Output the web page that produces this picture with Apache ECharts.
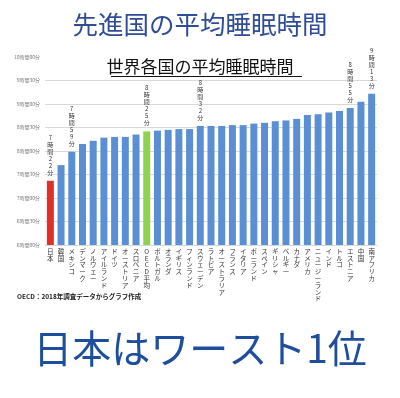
<!DOCTYPE html>
<html>
<head>
<meta charset="utf-8">
<script src="https://cdn.jsdelivr.net/npm/echarts@6/dist/echarts.min.js"></script>
<style>
    html, body {margin: 0; padding: 0; background: #fff;}
    #chart {width: 400px; height: 398px;}
</style>
</head>
<body>
<div id="chart"></div>
<script>
    //国名
    var countries = ['日本', '韓国', 'メキシコ', 'デンマーク', 'ノルウェー', 'アイルランド', 'ドイツ', 'オーストリア',
        'スロベニア', 'OECD平均', 'ポルトガル', 'オランダ', 'イギリス', 'フィンランド', 'スウェーデン', 'ラトビア',
        'オーストラリア', 'フランス', 'イタリア', 'ポーランド', 'スペイン', 'ギリシャ', 'ベルギー', 'カナダ',
        'アメリカ', 'ニュージーランド', 'インド', 'トルコ', 'エストニア', '中国', '南アフリカ'];
    //平均睡眠時間（分）
    var sleepMinutes = [442, 462, 479, 489, 493, 497, 498, 498, 501, 505, 506, 507, 508, 508, 512, 512,
        512, 513, 513, 515, 516, 518, 519, 521, 526, 527, 529, 531, 535, 543, 553];
    //ラベルを付ける国
    var labelled = ['日本', 'メキシコ', 'OECD平均', 'スウェーデン', 'エストニア', '南アフリカ'];
    //目盛り（分）
    var axisMin = 360;
    var axisMax = 600;
    var axisStep = 30;

    var pad = function (n) {
        return n < 10 ? '0' + n : '' + n;
    };
    var toTime = function (v) {
        return Math.floor(v / 60) + '時間' + pad(v % 60) + '分';
    };
    var vertical = function (s) {
        return s.split('').join('\n');
    };

    var barData = sleepMinutes.map(function (v, i) {
        var color = '#5b8fd4';
        if (countries[i] == '日本') color = '#e0302a';
        if (countries[i] == 'OECD平均') color = '#92d050';
        return {value: v, itemStyle: {color: color}};
    });

    //一番上の線は描かない
    var lineCount = (axisMax - axisMin) / axisStep + 1;
    var gridColors = [];
    for (var k = 0; k < lineCount; k++) {
        gridColors.push(k == lineCount - 1 ? 'rgba(0,0,0,0)' : '#d9d9d9');
    }

    var myChart = echarts.init(document.getElementById('chart'));
    myChart.setOption({
        animation: false,
        backgroundColor: '#fff',
        title: [{
            text: '先進国の平均睡眠時間',
            left: 'center',
            top: 7,
            textStyle: {
                fontFamily: 'Noto Sans CJK JP',
                fontSize: 25.5,
                fontWeight: 'normal',
                color: '#2f4d96'
            }
        }, {
            text: '世界各国の平均睡眠時間',
            left: 'center',
            top: 53,
            textStyle: {
                fontFamily: 'Noto Sans CJK JP',
                fontSize: 17,
                fontWeight: 'normal',
                color: '#111'
            }
        }, {
            text: 'OECD：2018年調査データからグラフ作成',
            left: 12,
            top: 288,
            textStyle: {
                fontFamily: 'Noto Sans CJK JP',
                fontSize: 6.5,
                fontWeight: 'bold',
                color: '#222'
            }
        }, {
            text: '日本はワースト1位',
            left: 'center',
            top: 324,
            textStyle: {
                fontFamily: 'Noto Sans CJK JP',
                fontSize: 39,
                fontWeight: 'normal',
                color: '#1f4e9c'
            }
        }],
        graphic: [{
            type: 'line',
            shape: {x1: 111, y1: 76.5, x2: 302, y2: 76.5},
            style: {stroke: '#111', lineWidth: 1}
        }],
        grid: {
            left: 45,
            right: 23,
            top: 57,
            bottom: 153
        },
        xAxis: {
            type: 'category',
            data: countries,
            axisLine: {lineStyle: {color: '#d9d9d9'}},
            axisTick: {show: false},
            axisLabel: {
                interval: 0,
                margin: 3,
                fontFamily: 'Noto Sans CJK JP',
                fontSize: 6.5,
                lineHeight: 6.8,
                color: '#333',
                formatter: function (name) {
                    return vertical(name);
                }
            }
        },
        yAxis: {
            type: 'value',
            min: axisMin,
            max: axisMax,
            interval: axisStep,
            axisLine: {show: false},
            axisTick: {show: false},
            splitLine: {lineStyle: {color: gridColors, width: 1}},
            axisLabel: {
                margin: 5,
                fontFamily: 'Noto Sans CJK JP',
                fontSize: 5,
                color: '#777',
                formatter: function (v) {
                    return toTime(v);
                }
            }
        },
        series: [{
            type: 'bar',
            data: barData,
            barWidth: 7,
            label: {
                show: true,
                position: 'top',
                distance: 5,
                fontFamily: 'Noto Sans CJK JP',
                fontSize: 6,
                lineHeight: 7,
                color: '#333',
                formatter: function (params) {
                    if (labelled.indexOf(params.name) < 0) return '';
                    return vertical(toTime(params.value));
                }
            }
        }]
    });
</script>
</body>
</html>
